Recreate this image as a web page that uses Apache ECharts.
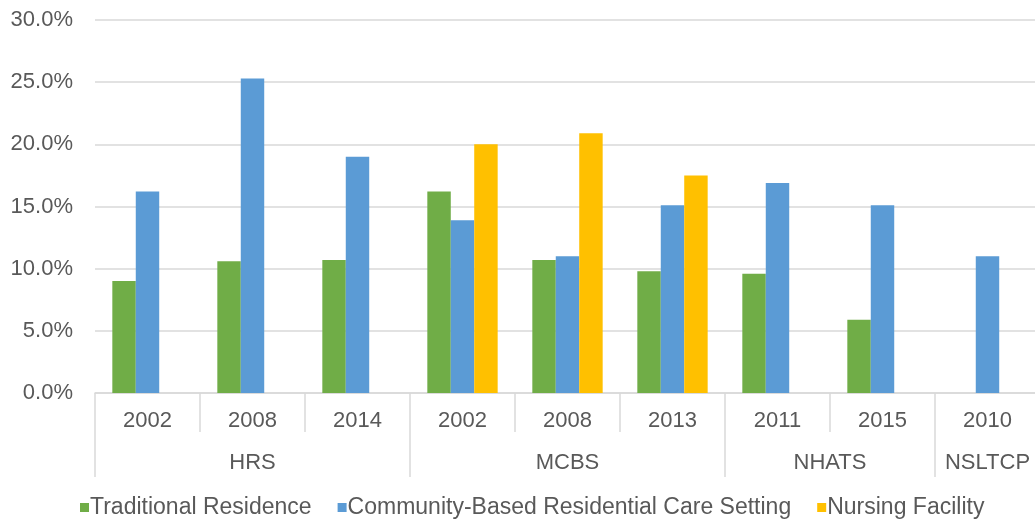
<!DOCTYPE html>
<html>
<head>
<meta charset="utf-8">
<script src="https://cdn.jsdelivr.net/npm/echarts@6/dist/echarts.min.js"></script>
<style>
  html, body { margin: 0; padding: 0; background: #fff; overflow: hidden; }
  /* the last category runs a few pixels past the page's right edge */
  #chart { width: 1040px; height: 522px; }
</style>
</head>
<body>
<div id="chart"></div>
<script>
// Survey years (first axis row) and the survey each belongs to (second row)
const years = ['2002', '2008', '2014', '2002', '2008', '2013', '2011', '2015', '2010'];
const surveys = ['HRS', 'MCBS', 'NHATS', 'NSLTCP'];
const surveySpans = [3, 3, 2, 1];

// Share of respondents by setting, percent
const traditionalResidence = [9.0, 10.6, 10.7, 16.2, 10.7, 9.8, 9.6, 5.9, null];
const communityBased = [16.2, 25.3, 19.0, 13.9, 11.0, 15.1, 16.9, 15.1, 11.0];
const nursingFacility = [null, null, null, 20.0, 20.9, 17.5, null, null, null];

const seriesNames = ['Traditional Residence', 'Community-Based Residential Care Setting', 'Nursing Facility'];
const yTicks = [0, 5, 10, 15, 20, 25, 30];

// Group boundaries and label centres for the survey row
const bounds = [0];
surveySpans.forEach(s => bounds.push(bounds[bounds.length - 1] + s));
const centres = surveySpans.map((s, i) => bounds[i] + s / 2);

const textColor = '#595959';
const lineColor = '#d9d9d9';
const font = 'Liberation Sans, Arial, sans-serif';

const chart = echarts.init(document.getElementById('chart'));
chart.setOption({
  animation: false,
  textStyle: { fontFamily: font },
  grid: { left: 95, right: 0, top: 20, bottom: 129 },
  legend: {
    bottom: 3,
    left: 80,
    padding: 0,
    icon: 'rect',
    itemWidth: 9,
    itemHeight: 9,
    itemGap: 26,
    textStyle: { fontSize: 23, color: textColor, fontFamily: font, padding: [0, 0, 0, -4] },
    data: seriesNames
  },
  xAxis: [
    {
      type: 'category',
      data: years,
      axisLine: { show: true, lineStyle: { color: lineColor, width: 1.5 } },
      axisTick: { show: true, interval: 0, length: 39, lineStyle: { color: lineColor, width: 1.5 } },
      axisLabel: { interval: 0, margin: 17, fontSize: 22, color: textColor, fontFamily: font }
    },
    {
      type: 'value',
      position: 'bottom',
      min: 0,
      max: bounds[bounds.length - 1],
      axisLine: { show: false },
      splitLine: { show: false },
      axisTick: { show: true, customValues: bounds, length: 84, lineStyle: { color: lineColor, width: 1.5 } },
      axisLabel: {
        customValues: centres,
        margin: 59,
        fontSize: 22,
        color: textColor,
        fontFamily: font,
        formatter: v => {
          const i = centres.findIndex(c => Math.abs(c - v) < 1e-6);
          return i >= 0 ? surveys[i] : '';
        }
      }
    }
  ],
  yAxis: {
    type: 'value',
    min: yTicks[0],
    max: yTicks[yTicks.length - 1],
    interval: 5,
    axisLine: { show: false },
    axisTick: { show: false },
    splitLine: { lineStyle: { color: lineColor, width: 1.5 } },
    axisLabel: { margin: 22, fontSize: 22, color: textColor, fontFamily: font, formatter: v => v.toFixed(1) + '%' }
  },
  series: [
    { name: seriesNames[0], type: 'bar', xAxisIndex: 0, data: traditionalResidence, itemStyle: { color: '#70ad47' }, barGap: '0%', barCategoryGap: '33%' },
    { name: seriesNames[1], type: 'bar', xAxisIndex: 0, data: communityBased, itemStyle: { color: '#5b9bd5' }, barGap: '0%', barCategoryGap: '33%' },
    { name: seriesNames[2], type: 'bar', xAxisIndex: 0, data: nursingFacility, itemStyle: { color: '#ffc000' }, barGap: '0%', barCategoryGap: '33%' }
  ]
});
</script>
</body>
</html>
